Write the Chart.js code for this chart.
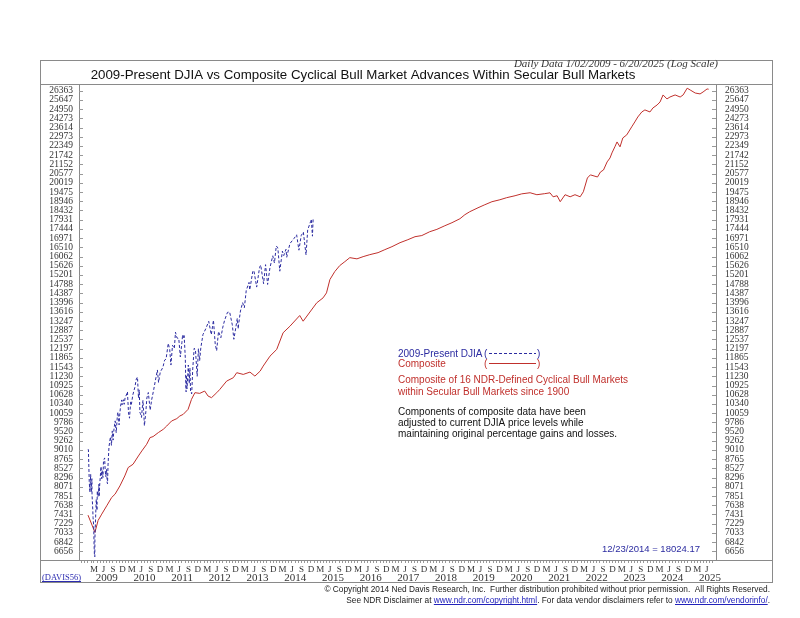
<!DOCTYPE html>
<html>
<head>
<meta charset="utf-8">
<script src="https://cdn.jsdelivr.net/npm/chart.js@4.4.1/dist/chart.umd.min.js"></script>
<style>
  html, body { margin: 0; padding: 0; background: #fff; }
  #wrap { width: 800px; height: 618px; }
</style>
</head>
<body>
<div id="wrap"><canvas id="chart" width="800" height="618"></canvas></div>
<script>
// y-axis tick labels (log scale)
const yTicks = [26363, 25647, 24950, 24273, 23614, 22973, 22349, 21742, 21152, 20577,
  20019, 19475, 18946, 18432, 17931, 17444, 16971, 16510, 16062, 15626,
  15201, 14788, 14387, 13996, 13616, 13247, 12887, 12537, 12197, 11865,
  11543, 11230, 10925, 10628, 10340, 10059, 9786, 9520, 9262, 9010,
  8765, 8527, 8296, 8071, 7851, 7638, 7431, 7229, 7033, 6842, 6656];

const years = [2009, 2010, 2011, 2012, 2013, 2014, 2015, 2016, 2017,
  2018, 2019, 2020, 2021, 2022, 2023, 2024, 2025];
const monthLetters = { 2: 'M', 5: 'J', 8: 'S', 11: 'D' };

// 2009-Present DJIA
const djiaDates = [
  '2009-01-02', '2009-01-06', '2009-01-14', '2009-01-20', '2009-01-28', '2009-02-02', '2009-02-09', '2009-02-10',
  '2009-02-17', '2009-02-20', '2009-02-26', '2009-03-02', '2009-03-05', '2009-03-09', '2009-03-10', '2009-03-17',
  '2009-03-23', '2009-03-30', '2009-04-02', '2009-04-08', '2009-04-14', '2009-04-17', '2009-04-20', '2009-04-24',
  '2009-05-04', '2009-05-08', '2009-05-15', '2009-05-19', '2009-05-27', '2009-06-01', '2009-06-12', '2009-06-17',
  '2009-06-23', '2009-07-01', '2009-07-07', '2009-07-10', '2009-07-15', '2009-07-24', '2009-08-07', '2009-08-17',
  '2009-08-25', '2009-09-02', '2009-09-11', '2009-09-22', '2009-10-02', '2009-10-14', '2009-10-19', '2009-10-30',
  '2009-11-05', '2009-11-13', '2009-11-25', '2009-11-27', '2009-12-04', '2009-12-11', '2009-12-18', '2009-12-28',
  '2010-01-08', '2010-01-19', '2010-01-29', '2010-02-08', '2010-02-19', '2010-02-26', '2010-03-12', '2010-03-31',
  '2010-04-15', '2010-04-26', '2010-05-06', '2010-05-13', '2010-05-20', '2010-05-25', '2010-06-04', '2010-06-18',
  '2010-06-29', '2010-07-02', '2010-07-16', '2010-07-26', '2010-08-09', '2010-08-27', '2010-09-10', '2010-09-30',
  '2010-10-15', '2010-11-05', '2010-11-16', '2010-12-03', '2010-12-20', '2010-12-31',
  '2011-01-14', '2011-01-28', '2011-02-18', '2011-03-04', '2011-03-16', '2011-03-31', '2011-04-18', '2011-04-29',
  '2011-05-13', '2011-05-31', '2011-06-15', '2011-06-30', '2011-07-07', '2011-07-19', '2011-07-22', '2011-08-02',
  '2011-08-08', '2011-08-10', '2011-08-12', '2011-08-19', '2011-08-31', '2011-09-09', '2011-09-16', '2011-09-22',
  '2011-10-03', '2011-10-13', '2011-10-27', '2011-11-08', '2011-11-25', '2011-12-07', '2011-12-19', '2011-12-30',
  '2012-01-20', '2012-02-17', '2012-03-16', '2012-04-10', '2012-05-01', '2012-05-18', '2012-06-01', '2012-06-19',
  '2012-07-12', '2012-07-31', '2012-08-17', '2012-09-14', '2012-10-05', '2012-10-31', '2012-11-15', '2012-12-03',
  '2012-12-18', '2012-12-28', '2012-12-31',
  '2013-01-18', '2013-02-08', '2013-02-25', '2013-03-15', '2013-04-11', '2013-04-18', '2013-05-17', '2013-05-28',
  '2013-06-24', '2013-07-22', '2013-08-02', '2013-08-30', '2013-09-18', '2013-10-08', '2013-10-31', '2013-11-27',
  '2013-12-13', '2013-12-31',
  '2014-01-15', '2014-02-03', '2014-02-28', '2014-03-13', '2014-04-04', '2014-04-11', '2014-05-12', '2014-06-20',
  '2014-07-16', '2014-08-07', '2014-08-29', '2014-09-19', '2014-10-15', '2014-10-31', '2014-11-28', '2014-12-05',
  '2014-12-16', '2014-12-23'
];
const djiaValues = [
  9034, 9015, 8200, 7949, 8375, 7936, 8270, 7888,
  7553, 7366, 7182, 6763, 6594, 6547, 6926, 7395,
  7776, 7522, 7978, 7837, 7920, 8131, 7841, 8076,
  8426, 8575, 8268, 8475, 8300, 8721, 8799, 8505,
  8323, 8504, 8163, 8146, 8616, 9093, 9370, 9135,
  9539, 9281, 9605, 9829, 9487, 10015, 10092, 9712,
  10005, 10270, 10464, 10310, 10388, 10471, 10328, 10547,
  10618, 10725, 10067, 9908, 10402, 10325, 10624, 10857,
  11144, 11205, 10520, 10782, 10068, 10043, 9931, 10450,
  9870, 9686, 10097, 10525, 10698, 10150, 10462, 10788,
  11062, 11444, 11023, 11382, 11478, 11578,
  11787, 11824, 12391, 12170, 11613, 12320, 12202, 12811,
  12596, 12570, 11897, 12414, 12719, 12587, 12681, 11867,
  10810, 10720, 11269, 10818, 11614, 10992, 11509, 10734,
  10655, 11479, 12209, 12170, 11231, 12196, 11766, 12218,
  12720, 12950, 13232, 12716, 13279, 12369, 12119, 12837,
  12604, 13009, 13275, 13593, 13610, 13096, 12543, 12965,
  13351, 12938, 13104,
  13650, 13993, 13784, 14514, 14865, 14537, 15354, 15409,
  14660, 15545, 15658, 14810, 15676, 14776, 15546, 16097,
  15755, 16577,
  16482, 15373, 16322, 16108, 16412, 16027, 16695, 16948,
  17138, 16368, 17098, 17280, 16141, 17391, 17828, 17958,
  17068, 18024
];

// Composite of cyclical bull markets (aligned to current DJIA levels)
const compDates = [
  '2009-01-02', '2009-02-10', '2009-03-10', '2009-04-10', '2009-05-15', '2009-07-02', '2009-08-19', '2009-09-21',
  '2009-11-07', '2009-12-24', '2010-01-26', '2010-03-14', '2010-05-05', '2010-06-07', '2010-07-24', '2010-08-26',
  '2010-09-24', '2010-11-14', '2011-01-01', '2011-02-03', '2011-03-22', '2011-05-12', '2011-06-10', '2011-07-13',
  '2011-08-29', '2011-10-01', '2011-11-03', '2011-12-20', '2012-02-06', '2012-03-10', '2012-04-12', '2012-06-02',
  '2012-07-02', '2012-09-06', '2012-11-10', '2012-12-13', '2013-02-14', '2013-04-20', '2013-06-07', '2013-07-28',
  '2013-08-26', '2013-10-31', '2014-01-04', '2014-03-07', '2014-05-12', '2014-08-15', '2014-09-17', '2015-01-26',
  '2015-03-29', '2015-05-01', '2015-06-03', '2015-07-20', '2015-09-06', '2015-10-26', '2015-12-13', '2016-02-20',
  '2016-04-20', '2016-06-24', '2016-09-12', '2016-11-17', '2017-01-25', '2017-04-13', '2017-06-28', '2017-09-05',
  '2017-11-10', '2018-01-26', '2018-04-05', '2018-06-21', '2018-08-29', '2018-11-14', '2019-01-01', '2019-02-17',
  '2019-05-08', '2019-07-13', '2019-09-20', '2019-12-06', '2020-02-10', '2020-05-01', '2020-07-05', '2020-09-24',
  '2020-11-29', '2021-02-13',
  '2021-04-05', '2021-05-05', '2021-06-13', '2021-07-13', '2021-08-29', '2021-10-17', '2021-12-03', '2022-01-22',
  '2022-02-22', '2022-04-02', '2022-05-01', '2022-07-09', '2022-08-07', '2022-09-05', '2022-10-10', '2022-11-07',
  '2022-11-26', '2022-12-24', '2023-01-14', '2023-02-12', '2023-03-11', '2023-04-18', '2023-06-05', '2023-07-05',
  '2023-08-03', '2023-09-11', '2023-10-11', '2023-11-29', '2023-12-28', '2024-02-06', '2024-03-06', '2024-04-04',
  '2024-05-12', '2024-06-10', '2024-07-30', '2024-09-17', '2024-10-16', '2024-11-24', '2024-12-23', '2025-02-10',
  '2025-03-29', '2025-04-27', '2025-06-05', '2025-06-20'
];
const compValues = [
  7416, 7200, 7044, 7300, 7439, 7625, 7818, 7896,
  8093, 8338, 8550, 8634, 8851, 8984, 9165, 9351,
  9378, 9491, 9585, 9679, 9825, 9896, 9973, 10023,
  10174, 10482, 10693, 10671, 10745, 10585, 10535, 10693,
  10799, 11070, 11183, 11351, 11293, 11371, 11236, 11406,
  11577, 11927, 12168, 12789, 13042, 13466, 13239, 13985,
  14195, 14408, 14992, 15353, 15631, 15818, 16008, 15950,
  16056, 16152, 16249, 16395, 16542, 16740, 16890, 17042,
  17100, 17298, 17420, 17610, 17770, 17982, 18200, 18362,
  18580, 18750, 18920, 19031, 19150, 19261, 19370, 19434,
  19320, 19380,
  19430, 19200, 19260, 18920, 19320, 19200, 19320, 19200,
  19490, 20310, 20500, 20370, 20680, 20800, 21310, 21560,
  21890, 22290, 22620, 22290, 22890, 23100, 23660, 24010,
  24370, 24740, 24890, 24740, 25040, 25260, 25490, 26030,
  25720, 25870, 26030, 25870, 26030, 26560, 26420, 26180,
  26110, 26260, 26500, 26480
];

function toYear(s) {
  const [y, m, d] = s.split('-').map(Number);
  const start = Date.UTC(y, 0, 1), next = Date.UTC(y + 1, 0, 1);
  return y + (Date.UTC(y, m - 1, d) - start) / (next - start);
}

const xMin = 2008.764, xMax = 2025.661;
const monthTicks = [], monthLabels = [];
for (let y = 2008; y <= 2025; y++) {
  for (let m = 0; m < 12; m++) {
    const v = toYear(y + '-' + (m + 1) + '-1');
    if (v < xMin || v > xMax) continue;
    monthTicks.push(v);
    monthLabels.push(y >= 2009 && monthLetters[m] ? monthLetters[m] : '');
  }
}

const djiaData = djiaDates.map((d, i) => ({ x: toYear(d), y: djiaValues[i] }));
const compData = compDates.map((d, i) => ({ x: toYear(d), y: compValues[i] }));

const BLUE = '#2b2ba0';
const RED = '#c0302c';
const serif = "'Liberation Serif', 'Times New Roman', serif";
const sans = "'Liberation Sans', Arial, sans-serif";

const decorations = {
  id: 'decorations',
  afterDraw(chart) {
    const ctx = chart.ctx, a = chart.chartArea, ys = chart.scales.y;
    const line = (x1, y1, x2, y2) => { ctx.beginPath(); ctx.moveTo(x1, y1); ctx.lineTo(x2, y2); ctx.stroke(); };
    ctx.save();
    ctx.strokeStyle = '#8a8a8a';
    ctx.lineWidth = 1;
    ctx.strokeRect(40.5, 60.5, 732, 522);
    line(40, a.top + 0.5, 772, a.top + 0.5);
    line(40, a.bottom + 0.5, 772, a.bottom + 0.5);
    line(a.left + 0.5, a.top, a.left + 0.5, a.bottom);
    line(a.right + 0.5, a.top, a.right + 0.5, a.bottom);
    // inner tick marks on both y edges
    ctx.strokeStyle = '#999';
    yTicks.forEach(v => {
      const p = Math.round(ys.getPixelForValue(v)) + 0.5;
      line(a.left, p, a.left + 4, p);
      line(a.right - 4, p, a.right, p);
    });

    // title
    ctx.fillStyle = '#111';
    ctx.font = '13.3px ' + sans;
    ctx.textAlign = 'center';
    ctx.textBaseline = 'alphabetic';
    ctx.fillText('2009-Present DJIA vs Composite Cyclical Bull Market Advances Within Secular Bull Markets', 363, 78.5);
    ctx.font = 'italic 11px ' + serif;
    ctx.textAlign = 'right';
    ctx.fillStyle = '#333';
    ctx.fillText('Daily Data 1/02/2009 - 6/20/2025 (Log Scale)', 718, 67);

    // legend
    ctx.textAlign = 'left';
    ctx.font = '10px ' + sans;
    ctx.fillStyle = BLUE;
    ctx.fillText('2009-Present DJIA', 398, 357);
    ctx.fillText('(', 484, 357);
    ctx.fillText(')', 537, 357);
    ctx.strokeStyle = BLUE;
    ctx.setLineDash([3, 2]);
    line(489, 353.5, 536, 353.5);
    ctx.setLineDash([]);
    ctx.fillStyle = RED;
    ctx.fillText('Composite', 398, 367);
    ctx.fillText('(', 484, 367);
    ctx.fillText(')', 537, 367);
    ctx.strokeStyle = RED;
    line(489, 363.5, 536, 363.5);

    ctx.font = '10px ' + sans;
    ctx.fillText('Composite of 16 NDR-Defined Cyclical Bull Markets', 398, 383);
    ctx.fillText('within Secular Bull Markets since 1900', 398, 395);
    ctx.fillStyle = '#111';
    ctx.fillText('Components of composite data have been', 398, 415);
    ctx.fillText('adjusted to current DJIA price levels while', 398, 426);
    ctx.fillText('maintaining original percentage gains and losses.', 398, 437);

    ctx.fillStyle = BLUE;
    ctx.font = '9.5px ' + sans;
    ctx.fillText('12/23/2014 = 18024.17', 602, 552);

    // chart code
    ctx.font = '8.5px ' + serif;
    ctx.fillStyle = '#2b2bb0';
    ctx.fillText('(DAVIS56)', 42, 580);
    ctx.strokeStyle = '#2b2bb0';
    line(42, 581.5, 42 + ctx.measureText('(DAVIS56)').width, 581.5);

    // footer
    ctx.font = '8.3px ' + sans;
    ctx.fillStyle = '#222';
    ctx.textAlign = 'right';
    ctx.fillText('\u00a9 Copyright 2014 Ned Davis Research, Inc.  Further distribution prohibited without prior permission.  All Rights Reserved.', 770, 592);
    const l2a = 'See NDR Disclaimer at ', l2b = 'www.ndr.com/copyright.html', l2c = '. For data vendor disclaimers refer to ', l2d = 'www.ndr.com/vendorinfo/', l2e = '.';
    const w = s => ctx.measureText(s).width;
    let x = 770 - w(l2a + l2b + l2c + l2d + l2e);
    ctx.textAlign = 'left';
    const parts = [[l2a, '#222', false], [l2b, '#2222bb', true], [l2c, '#222', false], [l2d, '#2222bb', true], [l2e, '#222', false]];
    parts.forEach(([t, c, u]) => {
      ctx.fillStyle = c;
      ctx.fillText(t, x, 603);
      if (u) { ctx.strokeStyle = c; line(x, 604.5, x + w(t), 604.5); }
      x += w(t);
    });
    ctx.restore();
  }
};

const yAxisBase = {
  type: 'logarithmic',
  min: 6486,
  max: 26895,
  afterBuildTicks: s => { s.ticks = yTicks.map(v => ({ value: v })); },
  ticks: {
    autoSkip: false,
    padding: 6,
    color: '#333',
    font: { family: serif, size: 9.5 },
    callback: v => String(v)
  },
  grid: { display: false, drawTicks: false },
  border: { display: false }
};

new Chart(document.getElementById('chart'), {
  type: 'line',
  data: {
    datasets: [
      {
        label: '2009-Present DJIA',
        data: djiaData,
        borderColor: BLUE,
        borderWidth: 1,
        borderDash: [3, 2],
        pointRadius: 0,
        tension: 0
      },
      {
        label: 'Composite',
        data: compData,
        borderColor: RED,
        borderWidth: 1,
        pointRadius: 0,
        tension: 0
      }
    ]
  },
  options: {
    responsive: false,
    animation: false,
    devicePixelRatio: 1,
    layout: { padding: { left: 40, right: 28, top: 84, bottom: 35 } },
    plugins: { legend: { display: false }, tooltip: { enabled: false } },
    scales: {
      x: {
        type: 'linear',
        position: 'bottom',
        min: xMin,
        max: xMax,
        afterBuildTicks: s => { s.ticks = monthTicks.map(v => ({ value: v })); },
        ticks: {
          autoSkip: false,
          maxRotation: 0,
          padding: 1,
          color: '#333',
          font: { family: serif, size: 9 },
          callback: (v, i) => monthLabels[i]
        },
        grid: { drawOnChartArea: false, drawTicks: true, tickLength: 3, color: '#999' },
        border: { display: false },
        afterFit: s => { s.height = 12; }
      },
      x2: {
        type: 'linear',
        position: 'bottom',
        weight: 1,
        min: xMin,
        max: xMax,
        afterBuildTicks: s => { s.ticks = years.map(y => ({ value: y + 0.5 })); },
        ticks: {
          autoSkip: false,
          maxRotation: 0,
          padding: 0,
          color: '#333',
          font: { family: serif, size: 11 },
          callback: (v, i) => String(years[i])
        },
        grid: { display: false, drawTicks: false },
        border: { display: false },
        afterFit: s => { s.height = 11; }
      },
      y: Object.assign({}, yAxisBase, { position: 'left', afterFit: s => { s.width = 39; } }),
      y2: Object.assign({}, yAxisBase, {
        position: 'right',
        ticks: Object.assign({}, yAxisBase.ticks, { padding: 9 }),
        afterFit: s => { s.width = 56; }
      })
    }
  },
  plugins: [decorations]
});
</script>
</body>
</html>
